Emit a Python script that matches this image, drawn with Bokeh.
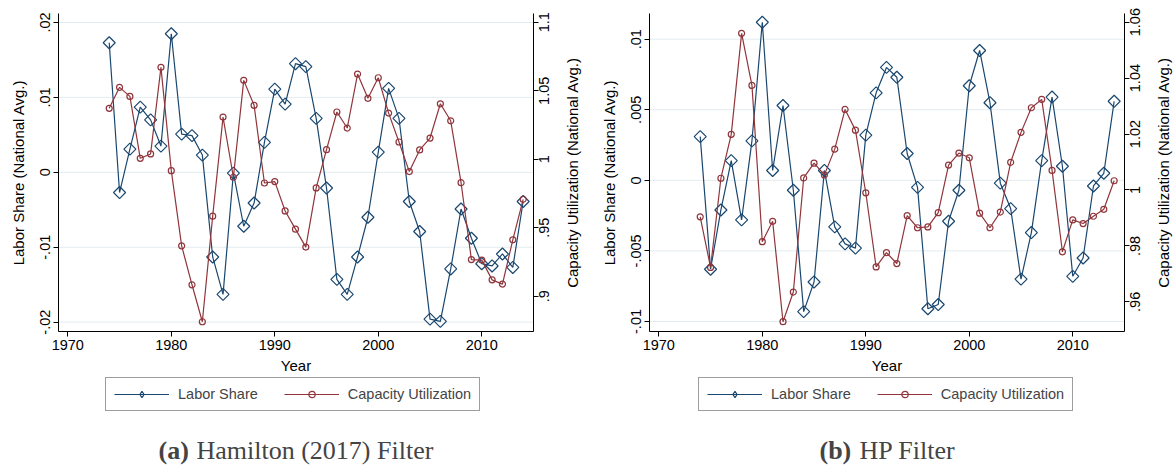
import math

from bokeh.core.properties import value
from bokeh.embed import file_html
from bokeh.layouts import row
from bokeh.models import (ColumnDataSource, FixedTicker, Label, Legend,
                          LegendItem, LinearAxis, Range1d)
from bokeh.plotting import figure
from bokeh.resources import INLINE

# ---------------------------------------------------------------- data
YEARS = list(range(1974, 2015))

# Hamilton (2017) filter: cyclical components
HAM_LABOR = [0.0173, -0.0027, 0.0031, 0.0087, 0.0070, 0.0035, 0.0185, 0.0051,
             0.0049, 0.0023, -0.0113, -0.0163, -0.0001, -0.0072, -0.0041,
             0.0040, 0.0111, 0.0091, 0.0145, 0.0141, 0.0072, -0.0021, -0.0143,
             -0.0163, -0.0113, -0.0060, 0.0027, 0.0112, 0.0072, -0.0039,
             -0.0079, -0.0196, -0.0199, -0.0129, -0.0049, -0.0088, -0.0122,
             -0.0125, -0.0109, -0.0127, -0.0039]
HAM_CU = [1.0372, 1.0525, 1.0459, 1.0007, 1.0039, 1.0671, 0.9917, 0.9368,
          0.9084, 0.8814, 0.9585, 1.0308, 0.9869, 1.0576, 1.0394, 0.9827,
          0.9837, 0.9623, 0.9490, 0.9359, 0.9791, 1.0070, 1.0345, 1.0228,
          1.0622, 1.0445, 1.0595, 1.0337, 1.0126, 0.9910, 1.0068, 1.0155,
          1.0405, 1.0281, 0.9829, 0.9268, 0.9264, 0.9120, 0.9089, 0.9412,
          0.9708]

# HP filter: cyclical components
HP_LABOR = [0.0031, -0.0063, -0.0021, 0.0014, -0.0028, 0.0028, 0.0112, 0.0007,
            0.0053, -0.0007, -0.0093, -0.0072, 0.0007, -0.0033, -0.0045,
            -0.0048, 0.0032, 0.0062, 0.0080, 0.0073, 0.0019, -0.0005, -0.0091,
            -0.0088, -0.0029, -0.0007, 0.0067, 0.0092, 0.0055, -0.0002,
            -0.0020, -0.0070, -0.0037, 0.0014, 0.0059, 0.0010, -0.0068,
            -0.0055, -0.0004, 0.0005, 0.0056]
HP_CU = [0.9904, 0.9723, 1.0042, 1.0199, 1.0560, 1.0374, 0.9815, 0.9888,
         0.9529, 0.9635, 1.0043, 1.0096, 1.0054, 1.0146, 1.0288, 1.0214,
         0.9990, 0.9725, 0.9776, 0.9737, 0.9908, 0.9865, 0.9868, 0.9919,
         1.0089, 1.0132, 1.0115, 0.9917, 0.9865, 0.9921, 1.0099, 1.0206,
         1.0294, 1.0324, 1.0070, 0.9779, 0.9893, 0.9880, 0.9906, 0.9931,
         1.0033]

X_TICKS = [1970, 1980, 1990, 2000, 2010]
X_LABELS = ["1970", "1980", "1990", "2000", "2010"]
X_SPAN = (1969.1, 2015.0)

HAM_LS_TICKS = [-0.02, -0.01, 0.0, 0.01, 0.02]
HAM_LS_LABELS = ["-.02", "-.01", "0", ".01", ".02"]
HAM_CU_TICKS = [0.9, 0.95, 1.0, 1.05, 1.1]
HAM_CU_LABELS = [".9", ".95", "1", "1.05", "1.1"]

HP_LS_TICKS = [-0.01, -0.005, 0.0, 0.005, 0.01]
HP_LS_LABELS = ["-.01", "-.005", "0", ".005", ".01"]
HP_CU_TICKS = [0.96, 0.98, 1.0, 1.02, 1.04, 1.06]
HP_CU_LABELS = [".96", ".98", "1", "1.02", "1.04", "1.06"]

SERIES_NAMES = ["Labor Share", "Capacity Utilization"]
Y_TITLE = "Labor Share (National Avg.)"
Y2_TITLE = "Capacity Utilization (National Avg.)"
X_TITLE = "Year"

# ---------------------------------------------------------------- style
BLUE = "#1a476f"
RED = "#90353b"
GRID = "#e3ecef"
SANS = "Liberation Sans"
SERIF = "Liberation Serif"
TICK_FS = "14.5px"
TITLE_FS = "15px"

FIG_H = 468
PLOT_W = 475      # width of the plotting region
PLOT_H = 318      # height of the plotting region
PLOT_TOP = 13     # plotting region starts this far below the top edge


def widen(lo, hi, size_px, before_px, after_px):
    """Extend a range so the drawing area covers the whole canvas."""
    per_px = (hi - lo) / size_px
    return lo - before_px * per_px, hi + after_px * per_px


def style_axis(ax):
    ax.axis_line_color = "black"
    ax.axis_line_width = 1
    ax.major_tick_line_color = "black"
    ax.major_tick_out = 5
    ax.major_tick_in = 0
    ax.minor_tick_line_color = None
    ax.major_label_text_font = SANS
    ax.major_label_text_font_size = TICK_FS
    ax.major_label_text_color = "black"
    ax.axis_label_text_font = SANS
    ax.axis_label_text_font_size = TITLE_FS
    ax.axis_label_text_font_style = "normal"
    ax.axis_label_text_color = "black"


def panel(lab, cu, y_rng, cu_rng, ls_ticks, ls_labels, cu_ticks, cu_labels,
          left_px, width, legend_x, tag, caption, tag_x, caption_x):
    right_px = width - left_px - PLOT_W
    below_px = FIG_H - PLOT_TOP - PLOT_H
    x_lo, x_hi = X_SPAN
    p = figure(width=width, height=FIG_H, min_border=0,
               x_range=Range1d(*widen(x_lo, x_hi, PLOT_W, left_px, right_px)),
               y_range=Range1d(*widen(*y_rng, PLOT_H, below_px, PLOT_TOP)),
               output_backend="svg", toolbar_location=None,
               background_fill_color="white", border_fill_color="white",
               outline_line_color=None)
    p.extra_y_ranges = {"cu": Range1d(*widen(*cu_rng, PLOT_H, below_px,
                                               PLOT_TOP))}
    p.xgrid.visible = False
    p.ygrid.visible = False

    # x axis along the bottom of the plotting region
    xa = p.xaxis[0]
    style_axis(xa)
    xa.fixed_location = y_rng[0]
    xa.bounds = X_SPAN
    xa.ticker = FixedTicker(ticks=X_TICKS)
    xa.major_label_overrides = dict(zip(X_TICKS, X_LABELS))
    xa.major_label_standoff = 3
    xa.axis_label = X_TITLE
    xa.axis_label_standoff = 4

    # left axis: labor share
    ya = p.yaxis[0]
    style_axis(ya)
    ya.fixed_location = x_lo
    ya.bounds = y_rng
    ya.ticker = FixedTicker(ticks=ls_ticks)
    ya.major_label_overrides = dict(zip(ls_ticks, ls_labels))
    ya.major_label_orientation = "vertical"
    ya.major_label_standoff = 3
    ya.axis_label = Y_TITLE
    ya.axis_label_standoff = 11

    # right axis: capacity utilization (labels drawn as rotated text below)
    ra = LinearAxis(y_range_name="cu", fixed_location=x_hi, bounds=cu_rng)
    style_axis(ra)
    ra.ticker = FixedTicker(ticks=cu_ticks)
    ra.major_label_overrides = {t: "" for t in cu_ticks}
    ra.major_label_text_font_size = "0px"
    ra.major_label_standoff = 0
    p.add_layout(ra, "right")

    # horizontal grid at the labor-share ticks, across the plotting region
    p.segment(x0=x_lo, x1=x_hi, y0=ls_ticks, y1=ls_ticks,
              line_color=GRID, line_width=1)

    src = ColumnDataSource(dict(year=YEARS, lab=lab, cu=cu))
    l1 = p.line("year", "lab", source=src, line_color=BLUE, line_width=1.2)
    p.scatter("year", "lab", source=src, marker="square",
              angle=math.pi / 4, size=8.5, line_color=BLUE,
              fill_color=None, line_width=1.2)
    l2 = p.line("year", "cu", source=src, y_range_name="cu",
                line_color=RED, line_width=1.2)
    m2 = p.scatter("year", "cu", source=src, y_range_name="cu",
                   marker="circle", size=6, line_color=RED,
                   fill_color=None, line_width=1.2)
    # legend swatch for the hollow diamonds (a NaN point draws nothing)
    key1 = p.scatter(x=[YEARS[0]], y=[float("nan")], marker="diamond",
                     size=10, line_color=BLUE, fill_color=None,
                     line_width=1.2)

    # right-axis tick labels and title, reading bottom to top
    p.text(x=x_hi, y="tick", text="label", y_range_name="cu",
           source=ColumnDataSource(dict(tick=cu_ticks, label=cu_labels)),
           x_offset=5, angle=math.pi / 2, text_align="center",
           text_baseline="top", text_font=value(SANS),
           text_font_size=value(TICK_FS), text_color="black")
    p.text(x=[x_hi], y=[(cu_rng[0] + cu_rng[1]) / 2], text=[Y2_TITLE],
           y_range_name="cu", x_offset=30, angle=math.pi / 2,
           text_align="center", text_baseline="top", text_font=value(SANS),
           text_font_size=value(TITLE_FS), text_color="black")

    leg = Legend(items=[LegendItem(label=SERIES_NAMES[0], renderers=[l1, key1]),
                        LegendItem(label=SERIES_NAMES[1], renderers=[l2, m2])],
                 orientation="horizontal", location=(legend_x, 57),
                 margin=0, padding=8, spacing=26, glyph_width=55,
                 glyph_height=16, label_height=16, label_standoff=9,
                 label_text_font=SANS, label_text_font_size="14.5px",
                 border_line_color="#3c3c3c", border_line_width=1,
                 background_fill_color="white", background_fill_alpha=1)
    p.add_layout(leg)

    p.add_layout(Label(x=tag_x, y=18, x_units="screen", y_units="screen",
                       text=tag, text_font=SERIF, text_font_size="26px",
                       text_font_style="bold", text_baseline="alphabetic"))
    p.add_layout(Label(x=caption_x, y=18, x_units="screen", y_units="screen",
                       text=caption, text_font=SERIF, text_font_size="26px",
                       text_baseline="alphabetic"))
    return p


left = panel(HAM_LABOR, HAM_CU, (-0.02125, 0.0212), (0.8743, 1.1064),
             HAM_LS_TICKS, HAM_LS_LABELS, HAM_CU_TICKS, HAM_CU_LABELS,
             left_px=58, width=586, legend_x=105,
             tag="(a)", caption="Hamilton (2017) Filter",
             tag_x=158, caption_x=196)

right = panel(HP_LABOR, HP_CU, (-0.01071, 0.01182), (0.9494, 1.0631),
              HP_LS_TICKS, HP_LS_LABELS, HP_CU_TICKS, HP_CU_LABELS,
              left_px=63, width=587, legend_x=112,
              tag="(b)", caption="HP Filter",
              tag_x=233, caption_x=273)

layout = row(left, right, spacing=0)
open("out.html", "w").write(file_html(layout, INLINE))
